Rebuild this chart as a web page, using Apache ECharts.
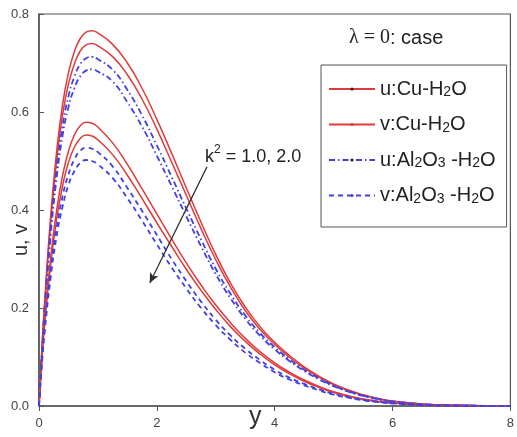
<!DOCTYPE html>
<html><head><meta charset="utf-8">
<script src="https://cdn.jsdelivr.net/npm/echarts@6/dist/echarts.min.js"></script>
<style>html,body{margin:0;padding:0;background:#fff}#c{width:517px;height:437px}</style>
</head><body><div id="c"></div>
<script>
const xs = [0, 0.05, 0.1, 0.2, 0.3, 0.4, 0.5, 0.6, 0.7, 0.8, 0.9, 1.0, 1.25, 1.5, 1.75, 2.0, 2.25, 2.5, 2.75, 3.0, 3.25, 3.5, 3.75, 4.0, 4.25, 4.5, 4.75, 5.0, 5.25, 5.5, 5.75, 6.0, 6.5, 7.0, 8.0];
const uCu_k1 = [0, 0.12, 0.22, 0.39, 0.52, 0.615, 0.68, 0.723, 0.75, 0.763, 0.766, 0.761, 0.738, 0.700, 0.648, 0.585, 0.516, 0.445, 0.375, 0.309, 0.251, 0.202, 0.162, 0.130, 0.103, 0.080, 0.061, 0.045, 0.0325, 0.023, 0.0155, 0.010, 0.004, 0.0015, 0];
const uCu_k2 = [0, 0.116, 0.2125, 0.377, 0.502, 0.594, 0.657, 0.698, 0.7245, 0.737, 0.740, 0.735, 0.713, 0.676, 0.626, 0.565, 0.498, 0.430, 0.362, 0.2985, 0.2425, 0.195, 0.1565, 0.1256, 0.0995, 0.0773, 0.0589, 0.0435, 0.0314, 0.0222, 0.015, 0.0097, 0.0039, 0.0014, 0];
const uAl_k1 = [0, 0.1116, 0.2046, 0.3627, 0.4836, 0.572, 0.632, 0.672, 0.6975, 0.7096, 0.7124, 0.7077, 0.6863, 0.645, 0.593, 0.532, 0.468, 0.403, 0.34, 0.28, 0.229, 0.185, 0.149, 0.12, 0.0953, 0.0742, 0.0566, 0.0419, 0.0302, 0.0214, 0.0144, 0.0093, 0.0037, 0.0014, 0];
const uAl_k2 = [0, 0.1076, 0.1973, 0.3498, 0.4664, 0.5517, 0.61, 0.6485, 0.6728, 0.6844, 0.6871, 0.6826, 0.662, 0.620, 0.570, 0.511, 0.449, 0.387, 0.326, 0.269, 0.22, 0.178, 0.1435, 0.1155, 0.0918, 0.0715, 0.0545, 0.0404, 0.0292, 0.0206, 0.0139, 0.009, 0.0036, 0.0013, 0];
const vCu_k1 = [0, 0.10, 0.18, 0.305, 0.40, 0.47, 0.52, 0.553, 0.572, 0.579, 0.577, 0.569, 0.537, 0.493, 0.443, 0.392, 0.341, 0.292, 0.247, 0.206, 0.170, 0.138, 0.111, 0.088, 0.069, 0.053, 0.040, 0.029, 0.021, 0.0145, 0.0098, 0.0065, 0.0025, 0.001, 0];
const vCu_k2 = [0, 0.0955, 0.172, 0.291, 0.382, 0.449, 0.497, 0.528, 0.546, 0.553, 0.551, 0.543, 0.513, 0.471, 0.423, 0.374, 0.326, 0.279, 0.236, 0.197, 0.162, 0.132, 0.106, 0.084, 0.066, 0.0506, 0.0382, 0.0277, 0.02, 0.0138, 0.0094, 0.0062, 0.0024, 0.001, 0];
const vAl_k1 = [0, 0.091, 0.164, 0.278, 0.364, 0.428, 0.473, 0.503, 0.521, 0.527, 0.525, 0.518, 0.489, 0.445, 0.398, 0.349, 0.300, 0.255, 0.213, 0.176, 0.144, 0.117, 0.094, 0.074, 0.058, 0.045, 0.034, 0.025, 0.018, 0.0125, 0.0085, 0.0056, 0.0022, 0.0009, 0];
const vAl_k2 = [0, 0.0867, 0.156, 0.264, 0.347, 0.407, 0.451, 0.479, 0.496, 0.502, 0.500, 0.493, 0.465, 0.424, 0.378, 0.330, 0.283, 0.240, 0.200, 0.165, 0.135, 0.109, 0.088, 0.069, 0.054, 0.042, 0.032, 0.023, 0.017, 0.0117, 0.008, 0.0053, 0.002, 0.0008, 0];
const names = ['u:Cu-H2O', 'v:Cu-H2O', 'u:Al2O3 -H2O', 'v:Al2O3 -H2O'];
const legendRich = {
  'u:Cu-H2O': '{a|u:Cu-H}{s|2}{a|O}',
  'v:Cu-H2O': '{a|v:Cu-H}{s|2}{a|O}',
  'u:Al2O3 -H2O': '{a|u:Al}{s|2}{a|O}{s|3}{a| -H}{s|2}{a|O}',
  'v:Al2O3 -H2O': '{a|v:Al}{s|2}{a|O}{s|3}{a| -H}{s|2}{a|O}'
};
const arrowFrom = [2.85, 0.488];
const arrowTo = [1.88, 0.251];

const RED = '#dd3b3b', BLUE = '#4040e6';
const zip = a => xs.map((x, i) => [x, a[i]]);
function mk(name, arr, color, type, width, dot) {
  return {
    type: 'line', name: name, data: zip(arr), smooth: 0.5,
    showSymbol: false, symbol: dot ? 'circle' : 'none', symbolSize: 3,
    itemStyle: { color: dot ? '#222' : color },
    lineStyle: { color: color, width: width, type: type },
    silent: true, animation: false, z: 3
  };
}
const series = [
  mk(names[0], uCu_k1, RED, 'solid', 1.5, true),
  mk(names[0], uCu_k2, RED, 'solid', 1.5, true),
  mk(names[2], uAl_k1, BLUE, [6, 3, 1.5, 3], 1.8, true),
  mk(names[2], uAl_k2, BLUE, [6, 3, 1.5, 3], 1.8, true),
  mk(names[1], vCu_k1, RED, 'solid', 1.5, false),
  mk(names[1], vCu_k2, RED, 'solid', 1.5, false),
  mk(names[3], vAl_k1, BLUE, [5, 4], 1.8, false),
  mk(names[3], vAl_k2, BLUE, [5, 4], 1.8, false)
];
series[0].markLine = {
  silent: true, symbol: ['none', 'arrow'], symbolSize: [7, 10], animation: false,
  lineStyle: { color: '#2a2a2a', width: 1.2, type: 'solid' }, label: { show: false },
  data: [[{ coord: arrowFrom }, { coord: arrowTo }]]
};
const FONT = 'Liberation Sans';
const chart = echarts.init(document.getElementById('c'), null, { renderer: 'canvas' });
chart.setOption({
  animation: false,
  backgroundColor: '#fff',
  grid: { left: 39, top: 14, right: -3, bottom: 31, show: true, borderColor: '#555', borderWidth: 1.2, backgroundColor: 'transparent' },
  xAxis: {
    type: 'value', min: 0, max: 8, interval: 2,
    axisLine: { show: true, lineStyle: { color: '#555', width: 1.5 } },
    axisTick: { show: true, inside: false, length: 5, lineStyle: { color: '#555' } },
    axisLabel: { color: '#444', fontSize: 13, fontFamily: FONT, margin: 11 },
    splitLine: { show: false }
  },
  yAxis: {
    type: 'value', min: 0, max: 0.8, interval: 0.2,
    axisLine: { show: true, lineStyle: { color: '#555', width: 1.5 } },
    axisTick: { show: true, inside: true, length: 5, lineStyle: { color: '#555' } },
    axisLabel: { color: '#444', fontSize: 13, fontFamily: FONT, margin: 10, formatter: v => v.toFixed(1) },
    splitLine: { show: false }
  },
  legend: {
    orient: 'vertical', left: 321, top: 65,
    data: names, itemWidth: 46, itemHeight: 4, itemGap: 15,
    padding: [14, 11, 21, 7],
    borderColor: '#555', borderWidth: 1, backgroundColor: '#fff',
    formatter: n => legendRich[n],
    textStyle: {
      color: '#222', fontFamily: FONT,
      rich: {
        a: { fontSize: 20, fontFamily: FONT, color: '#222', lineHeight: 21, verticalAlign: 'middle' },
        s: { fontSize: 14, fontFamily: FONT, color: '#222', lineHeight: 11, verticalAlign: 'bottom' }
      }
    },
    selectedMode: false
  },
  graphic: [
    { type: 'text', left: 349, top: 28, style: {
      text: '{g|λ = 0}{t|: case}',
      rich: { g: { fontFamily: 'Liberation Serif', fontSize: 20, fill: '#222' }, t: { fontFamily: FONT, fontSize: 20, fill: '#222' } } } },
    { type: 'text', left: 205, top: 144, style: {
      text: '{a|k}{p|2}{a| = 1.0, 2.0}',
      rich: { a: { fontFamily: FONT, fontSize: 18, fill: '#222', lineHeight: 22, verticalAlign: 'bottom' }, p: { fontFamily: FONT, fontSize: 12, fill: '#222', lineHeight: 12, verticalAlign: 'top' } } } },
    { type: 'text', left: 249, top: 405, style: { text: 'y', fontFamily: FONT, fontSize: 25, fill: '#333' } },
    { type: 'text', x: 21, y: 240, rotation: Math.PI / 2, style: { text: 'u, v', fontFamily: FONT, fontSize: 20, fill: '#333', align: 'center', verticalAlign: 'middle' } }
  ],
  series: series
});
</script></body></html>
